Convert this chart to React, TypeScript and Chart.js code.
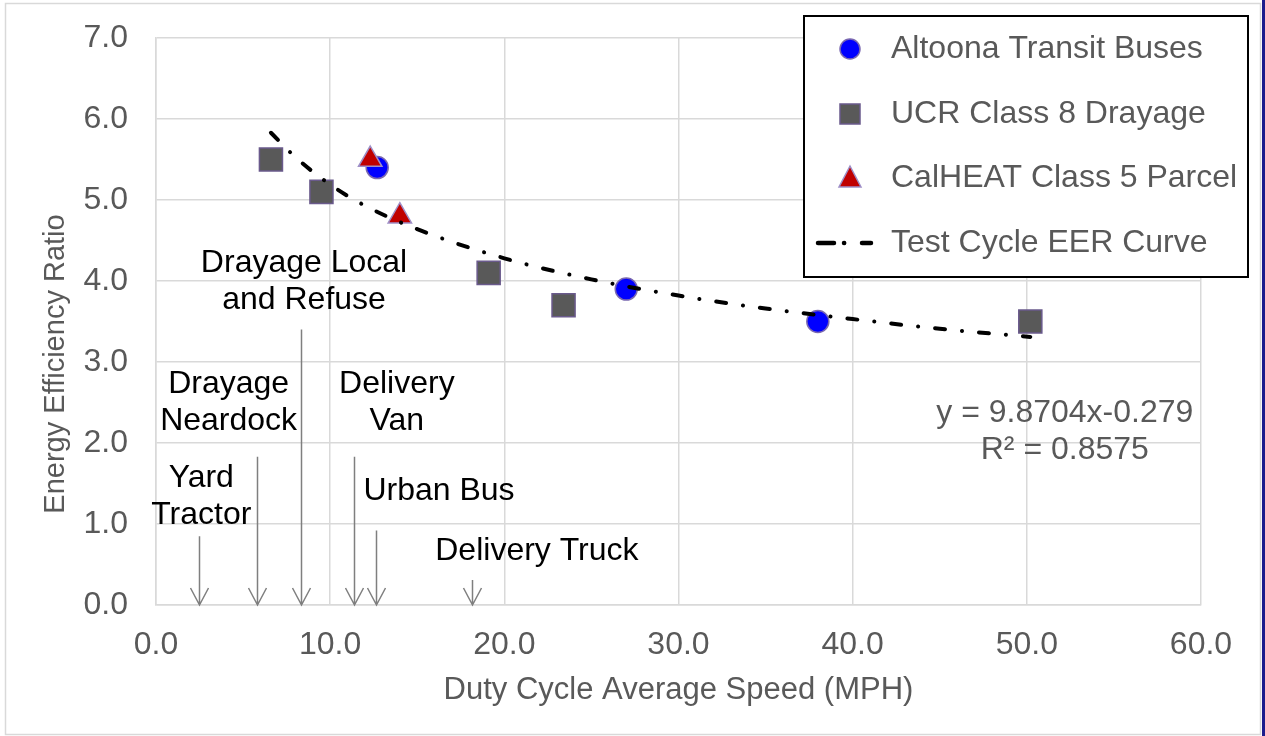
import React, { useEffect, useRef } from 'react';
import { Chart, registerables } from 'chart.js';

Chart.register(...registerables);

// ---- Data ----
const seriesNames = ['Altoona Transit Buses', 'UCR Class 8 Drayage', 'CalHEAT Class 5 Parcel', 'Test Cycle EER Curve'];

const altoonaSpeed = [12.7, 27.0, 38.0];
const altoonaEER = [5.4, 3.9, 3.5];

const ucrSpeed = [6.6, 9.5, 19.1, 23.4, 50.2];
const ucrEER = [5.5, 5.1, 4.1, 3.7, 3.5];

const calheatSpeed = [12.3, 14.0];
const calheatEER = [5.5, 4.8];

// Trend curve (power fit shown on the chart)
const curveSpeed = [6.6, 8, 10, 12, 15, 20, 25, 30, 35, 40, 45, 50.2];
const curveEER = [5.83, 5.53, 5.19, 4.93, 4.64, 4.28, 4.02, 3.82, 3.66, 3.53, 3.41, 3.31];

const trendLabel = ['y = 9.8704x-0.279', 'R\u00B2 = 0.8575'];

// Vocation annotations: arrows pointing at typical cycle speeds
const vocationNames = [['Yard', 'Tractor'], ['Drayage', 'Neardock'], ['Drayage Local', 'and Refuse'], ['Delivery', 'Van'], ['Urban Bus'], ['Delivery Truck']];
const vocationSpeed = [2.45, 5.8, 8.35, 11.35, 12.65, 18.15];
const vocationArrowTop = [0.85, 1.83, 3.4, 1.83, 0.92, 0.31];

const xAxisTitle = 'Duty Cycle Average Speed (MPH)';
const yAxisTitle = 'Energy Efficiency Ratio';

// ---- Layout / style (not data) ----
const labelAnchors = [
  { x: 2.6, y: 1.56 },
  { x: 4.17, y: 2.73 },
  { x: 8.5, y: 4.22 },
  { x: 13.83, y: 2.73 },
  { x: 16.25, y: 1.40 },
  { x: 21.87, y: 0.66 },
];
const trendAnchor = { x: 52.18, y: 2.37 };
const FONT = "'Liberation Sans', Arial, sans-serif";
const GREY_TEXT = '#595959';
const GRID = '#d9d9d9';

const toPts = (xs: number[], ys: number[]) => xs.map((x, i) => ({ x, y: ys[i] }));

const decorPlugin = {
  id: 'decor',
  beforeDatasetsDraw(chart: any) {
    const { ctx } = chart;
    const xs = chart.scales.x;
    const ys = chart.scales.y;
    ctx.save();
    // arrows
    ctx.strokeStyle = '#7f7f7f';
    ctx.lineWidth = 1.5;
    vocationSpeed.forEach((s, i) => {
      const px = Math.round(xs.getPixelForValue(s)) + 0.5;
      const top = ys.getPixelForValue(vocationArrowTop[i]);
      const bot = ys.getPixelForValue(0);
      ctx.beginPath();
      ctx.moveTo(px, top);
      ctx.lineTo(px, bot);
      ctx.moveTo(px - 9, bot - 17);
      ctx.lineTo(px, bot);
      ctx.lineTo(px + 9, bot - 17);
      ctx.stroke();
    });
    // vocation labels
    ctx.fillStyle = '#000000';
    ctx.font = `32px ${FONT}`;
    ctx.textAlign = 'center';
    ctx.textBaseline = 'middle';
    vocationNames.forEach((lines, i) => {
      const cx = xs.getPixelForValue(labelAnchors[i].x);
      const cy = ys.getPixelForValue(labelAnchors[i].y);
      lines.forEach((t, j) => ctx.fillText(t, cx, cy + j * 37));
    });
    // trend equation
    ctx.fillStyle = GREY_TEXT;
    const ex = xs.getPixelForValue(trendAnchor.x);
    const ey = ys.getPixelForValue(trendAnchor.y);
    trendLabel.forEach((t, j) => ctx.fillText(t, ex, ey + j * 37));
    ctx.restore();
  },
  afterDraw(chart: any) {
    const { ctx, chartArea } = chart;
    ctx.save();
    // axis titles
    ctx.fillStyle = GREY_TEXT;
    ctx.font = `31px ${FONT}`;
    ctx.textAlign = 'center';
    ctx.textBaseline = 'middle';
    ctx.fillText(xAxisTitle, (chartArea.left + chartArea.right) / 2, 690);
    ctx.save();
    ctx.translate(64, 364);
    ctx.rotate(-Math.PI / 2);
    ctx.font = `29px ${FONT}`;
    ctx.textBaseline = 'alphabetic';
    ctx.fillText(yAxisTitle, 0, 0);
    ctx.restore();

    // legend box
    const lx = 804, ly = 16, lw = 444, lh = 261;
    ctx.fillStyle = '#ffffff';
    ctx.fillRect(lx, ly, lw, lh);
    ctx.strokeStyle = '#000000';
    ctx.lineWidth = 2;
    ctx.strokeRect(lx, ly, lw, lh);
    const rows = [49, 114, 178, 243];
    const mx = 850;
    // circle
    ctx.beginPath();
    ctx.arc(mx, rows[0], 10, 0, Math.PI * 2);
    ctx.fillStyle = '#0000ff';
    ctx.fill();
    ctx.lineWidth = 1.5;
    ctx.strokeStyle = '#7a68b0';
    ctx.stroke();
    // square
    ctx.fillStyle = '#595959';
    ctx.fillRect(mx - 10, rows[1] - 10, 20, 20);
    ctx.strokeStyle = '#6a5a8c';
    ctx.strokeRect(mx - 10, rows[1] - 10, 20, 20);
    // triangle
    ctx.beginPath();
    ctx.moveTo(mx, rows[2] - 12);
    ctx.lineTo(mx + 11, rows[2] + 9);
    ctx.lineTo(mx - 11, rows[2] + 9);
    ctx.closePath();
    ctx.fillStyle = '#c00000';
    ctx.fill();
    ctx.strokeStyle = '#9f90c8';
    ctx.stroke();
    // dash-dot sample
    ctx.strokeStyle = '#000000';
    ctx.lineWidth = 4.5;
    ctx.lineCap = 'round';
    ctx.beginPath();
    ctx.moveTo(818, rows[3]);
    ctx.lineTo(834, rows[3]);
    ctx.moveTo(844, rows[3]);
    ctx.lineTo(844.2, rows[3]);
    ctx.moveTo(862, rows[3]);
    ctx.lineTo(871, rows[3]);
    ctx.stroke();
    ctx.lineCap = 'butt';
    ctx.fillStyle = GREY_TEXT;
    ctx.font = `32px ${FONT}`;
    ctx.textAlign = 'left';
    ctx.textBaseline = 'middle';
    seriesNames.forEach((n, i) => ctx.fillText(n, 891, rows[i]));

    // outer chart border and right edge
    ctx.strokeStyle = GRID;
    ctx.lineWidth = 1.5;
    ctx.strokeRect(5.5, 3.5, 1255, 731);
    ctx.fillStyle = '#1c1c8c';
    ctx.fillRect(1262, 0, 3, 736);
    ctx.restore();
  },
};

export default function App() {
  const ref = useRef<HTMLCanvasElement | null>(null);
  useEffect(() => {
    if (!ref.current) return;
    const chart = new Chart(ref.current, {
      type: 'scatter',
      data: {
        datasets: [
          {
            label: seriesNames[3],
            data: toPts(curveSpeed, curveEER),
            showLine: true,
            pointRadius: 0,
            borderColor: '#000000',
            borderWidth: 4,
            borderDash: [10, 17, 0.1, 17],
            borderCapStyle: 'round',
            cubicInterpolationMode: 'monotone',
            fill: false,
          } as any,
          {
            label: seriesNames[2],
            data: toPts(calheatSpeed, calheatEER),
            pointStyle: 'triangle',
            pointRadius: 13.5,
            backgroundColor: '#c00000',
            borderColor: '#9f90c8',
            borderWidth: 1.5,
          },
          {
            label: seriesNames[1],
            data: toPts(ucrSpeed, ucrEER),
            pointStyle: 'rect',
            pointRadius: 16.3,
            backgroundColor: '#595959',
            borderColor: '#6a5a8c',
            borderWidth: 1.5,
          },
          {
            label: seriesNames[0],
            data: toPts(altoonaSpeed, altoonaEER),
            pointStyle: 'circle',
            pointRadius: 11,
            backgroundColor: '#0000ff',
            borderColor: '#7a68b0',
            borderWidth: 1.5,
          },
        ],
      },
      options: {
        animation: false,
        responsive: false,
        devicePixelRatio: 1,
        layout: { padding: { left: 0, top: 38, right: 64, bottom: 0 } },
        plugins: { legend: { display: false }, tooltip: { enabled: false }, title: { display: false } },
        scales: {
          x: {
            type: 'linear',
            min: 0,
            max: 60,
            afterFit: (s: any) => { s.height = 131; s.paddingLeft = 0; s.paddingRight = 0; s.paddingTop = 0; s.paddingBottom = 0; },
            ticks: {
              stepSize: 10,
              callback: (v: any) => Number(v).toFixed(1),
              color: GREY_TEXT,
              font: { family: FONT, size: 32 },
              padding: 21,
              maxRotation: 0,
            },
            grid: { color: GRID, lineWidth: 1.5, drawTicks: false },
            border: { color: GRID, width: 1.5 },
          },
          y: {
            type: 'linear',
            min: 0,
            max: 7,
            afterFit: (s: any) => { s.width = 156; s.paddingTop = 0; s.paddingBottom = 0; s.paddingLeft = 0; s.paddingRight = 0; },
            ticks: {
              stepSize: 1,
              callback: (v: any) => Number(v).toFixed(1),
              color: GREY_TEXT,
              font: { family: FONT, size: 32 },
              padding: 28,
            },
            grid: { color: GRID, lineWidth: 1.5, drawTicks: false },
            border: { color: GRID, width: 1.5 },
          },
        },
      },
      plugins: [decorPlugin],
    });
    return () => chart.destroy();
  }, []);
  return (
    <div style={{ position: 'fixed', left: 0, top: 0, width: 1265, height: 736, background: '#ffffff' }}>
      <canvas ref={ref} width={1265} height={736} style={{ display: 'block', width: 1265, height: 736 }} />
    </div>
  );
}
